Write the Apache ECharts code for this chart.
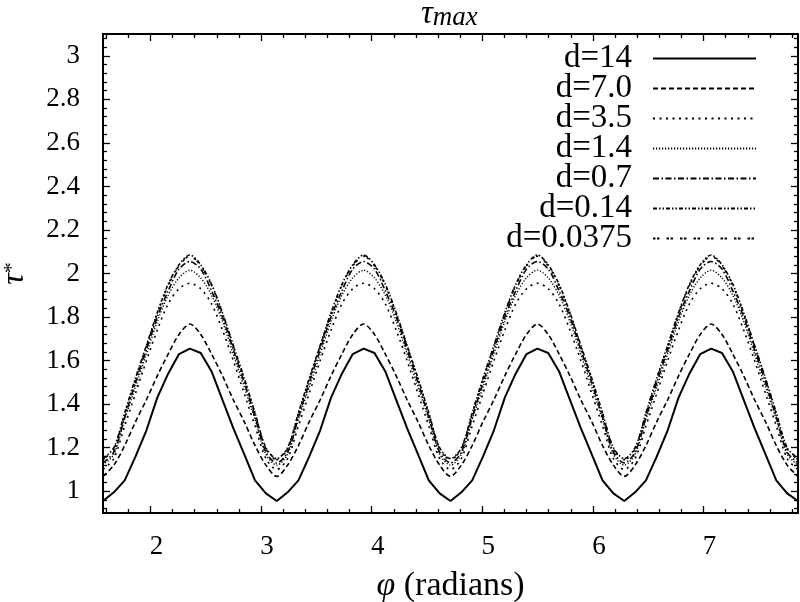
<!DOCTYPE html>
<html><head><meta charset="utf-8">
<script src="https://cdn.jsdelivr.net/npm/echarts@6/dist/echarts.min.js"></script>
<style>html,body{margin:0;padding:0;background:#fff}#c{width:800px;height:602px}</style>
</head><body><div id="c"></div>
<script>
// ---- data ----
const xValues = [1.5708,1.6690,1.7671,1.8653,1.9635,2.0617,2.1598,2.2580,2.3562,2.4544,2.5525,2.6507,2.7489,2.8471,2.9452,3.0434,3.1416,
 3.2398,3.3379,3.4361,3.5343,3.6325,3.7306,3.8288,3.9270,4.0252,4.1233,4.2215,4.3197,4.4179,4.5160,4.6142,4.7124,
 4.8106,4.9087,5.0069,5.1051,5.2033,5.3014,5.3996,5.4978,5.5960,5.6941,5.7923,5.8905,5.9887,6.0868,6.1850,6.2832,
 6.3814,6.4795,6.5777,6.6759,6.7741,6.8722,6.9704,7.0686,7.1668,7.2649,7.3631,7.4613,7.5595,7.6576,7.7558,7.8540];

const seriesNames = ['d=14','d=7.0','d=3.5','d=1.4','d=0.7','d=0.14','d=0.0375'];

const d14 = [0.955,0.995,1.05,1.16,1.28,1.43,1.54,1.63,1.655,1.635,1.55,1.42,1.29,1.17,1.05,0.99,0.955,
 0.995,1.05,1.16,1.28,1.43,1.54,1.63,1.655,1.635,1.55,1.42,1.29,1.17,1.05,0.99,0.955,
 0.995,1.05,1.16,1.28,1.43,1.54,1.63,1.655,1.635,1.55,1.42,1.29,1.17,1.05,0.99,0.955,
 0.995,1.05,1.16,1.28,1.43,1.54,1.63,1.655,1.635,1.55,1.42,1.29,1.17,1.05,0.99,0.955];
const d7 = [1.068,1.12,1.21,1.32,1.42,1.53,1.63,1.72,1.768,1.72,1.63,1.53,1.42,1.32,1.21,1.12,1.068,
 1.12,1.21,1.32,1.42,1.53,1.63,1.72,1.768,1.72,1.63,1.53,1.42,1.32,1.21,1.12,1.068,
 1.12,1.21,1.32,1.42,1.53,1.63,1.72,1.768,1.72,1.63,1.53,1.42,1.32,1.21,1.12,1.068,
 1.12,1.21,1.32,1.42,1.53,1.63,1.72,1.768,1.72,1.63,1.53,1.42,1.32,1.21,1.12,1.068];
const d35 = [1.10,1.15,1.30,1.45,1.60,1.74,1.86,1.93,1.955,1.93,1.86,1.74,1.60,1.45,1.30,1.15,1.10,
 1.15,1.30,1.45,1.60,1.74,1.86,1.93,1.955,1.93,1.86,1.74,1.60,1.45,1.30,1.15,1.10,
 1.15,1.30,1.45,1.60,1.74,1.86,1.93,1.955,1.93,1.86,1.74,1.60,1.45,1.30,1.15,1.10,
 1.15,1.30,1.45,1.60,1.74,1.86,1.93,1.955,1.93,1.86,1.74,1.60,1.45,1.30,1.15,1.10];
const d14b = [1.12,1.17,1.33,1.48,1.63,1.78,1.90,1.98,2.015,1.98,1.90,1.78,1.63,1.48,1.33,1.17,1.12,
 1.17,1.33,1.48,1.63,1.78,1.90,1.98,2.015,1.98,1.90,1.78,1.63,1.48,1.33,1.17,1.12,
 1.17,1.33,1.48,1.63,1.78,1.90,1.98,2.015,1.98,1.90,1.78,1.63,1.48,1.33,1.17,1.12,
 1.17,1.33,1.48,1.63,1.78,1.90,1.98,2.015,1.98,1.90,1.78,1.63,1.48,1.33,1.17,1.12];
const d07 = [1.13,1.18,1.34,1.50,1.65,1.80,1.92,2.02,2.055,2.02,1.92,1.80,1.65,1.50,1.34,1.18,1.13,
 1.18,1.34,1.50,1.65,1.80,1.92,2.02,2.055,2.02,1.92,1.80,1.65,1.50,1.34,1.18,1.13,
 1.18,1.34,1.50,1.65,1.80,1.92,2.02,2.055,2.02,1.92,1.80,1.65,1.50,1.34,1.18,1.13,
 1.18,1.34,1.50,1.65,1.80,1.92,2.02,2.055,2.02,1.92,1.80,1.65,1.50,1.34,1.18,1.13];
const d014 = [1.15,1.20,1.36,1.52,1.67,1.82,1.95,2.04,2.085,2.04,1.95,1.82,1.67,1.52,1.36,1.20,1.15,
 1.20,1.36,1.52,1.67,1.82,1.95,2.04,2.085,2.04,1.95,1.82,1.67,1.52,1.36,1.20,1.15,
 1.20,1.36,1.52,1.67,1.82,1.95,2.04,2.085,2.04,1.95,1.82,1.67,1.52,1.36,1.20,1.15,
 1.20,1.36,1.52,1.67,1.82,1.95,2.04,2.085,2.04,1.95,1.82,1.67,1.52,1.36,1.20,1.15];
const d00375 = [1.145,1.195,1.355,1.515,1.665,1.815,1.945,2.035,2.08,2.035,1.945,1.815,1.665,1.515,1.355,1.195,1.145,
 1.195,1.355,1.515,1.665,1.815,1.945,2.035,2.08,2.035,1.945,1.815,1.665,1.515,1.355,1.195,1.145,
 1.195,1.355,1.515,1.665,1.815,1.945,2.035,2.08,2.035,1.945,1.815,1.665,1.515,1.355,1.195,1.145,
 1.195,1.355,1.515,1.665,1.815,1.945,2.035,2.08,2.035,1.945,1.815,1.665,1.515,1.355,1.195,1.145];

const xTickValues = [2,3,4,5,6,7];
const yTickValues = [1,1.2,1.4,1.6,1.8,2,2.2,2.4,2.6,2.8,3];
const xRange = [1.5708, 7.8540];
const yRange = [0.9, 3.1];

// ---- styling ----
const FONT = 'Liberation Serif';
const allY = [d14, d7, d35, d14b, d07, d014, d00375];
const dashes = ['solid', [5,3], [2,4.5], [1.2,1.8], [6,2.5,1.5,2.5], [4,2,1.5,2,1.5,2], [2.5,1.5,2.5,7]];
const widths = [2, 1.6, 1.6, 1.4, 1.6, 1.6, 1.6];

// minor tick positions (decoration)
const xMinor = [], yMinor = [];
for (let v = 16; v <= 78; v += 2) if (v % 10 !== 0) xMinor.push(v / 10);
for (let v = 92; v <= 308; v += 4) if (v % 20 !== 0) yMinor.push(v / 100);

function xAx(pos, ticks, len, showLabel, showLine) {
  return {
    type: 'value', position: pos, min: xRange[0], max: xRange[1],
    axisLine: { show: showLine, onZero: false, lineStyle: { color: '#000', width: 2 } },
    axisTick: { show: true, inside: true, length: len, customValues: ticks, lineStyle: { color: '#000', width: 1.3 } },
    axisLabel: { show: showLabel, customValues: ticks, margin: 20, color: '#000', fontFamily: FONT, fontSize: 27, padding: [0, 0, 0, 12] },
    splitLine: { show: false }
  };
}
function yAx(pos, ticks, len, showLabel, showLine) {
  return {
    type: 'value', position: pos, min: yRange[0], max: yRange[1],
    axisLine: { show: showLine, onZero: false, lineStyle: { color: '#000', width: 2 } },
    axisTick: { show: true, inside: true, length: len, customValues: ticks, lineStyle: { color: '#000', width: 1.3 } },
    axisLabel: { show: showLabel, customValues: ticks, margin: 23, color: '#000', fontFamily: FONT, fontSize: 27 },
    splitLine: { show: false }
  };
}

const xAxes = [xAx('bottom', xTickValues, 7, true, true), xAx('bottom', xMinor, 4, false, false),
               xAx('top', xTickValues, 7, false, true), xAx('top', xMinor, 4, false, false)];
const yAxes = [yAx('left', yTickValues, 7, true, true), yAx('left', yMinor, 4, false, false),
               yAx('right', yTickValues, 7, false, true), yAx('right', yMinor, 4, false, false)];

xAxes[0].name = '{i|φ} (radians)';
xAxes[0].nameLocation = 'middle';
xAxes[0].nameGap = 56;
xAxes[0].nameMoveOverlap = false;
xAxes[0].nameTextStyle = { color: '#000', fontFamily: FONT, fontSize: 34, rich: { i: { fontFamily: FONT, fontStyle: 'italic', fontSize: 34, color: '#000' } } };

yAxes[0].name = '{t|τ}{s|*}';
yAxes[0].nameLocation = 'middle';
yAxes[0].nameGap = 72;
yAxes[0].nameMoveOverlap = false;
yAxes[0].nameTextStyle = { color: '#000', fontFamily: FONT, rich: {
  t: { fontFamily: FONT, fontStyle: 'italic', fontSize: 32, color: '#000', lineHeight: 30, verticalAlign: 'bottom' },
  s: { fontFamily: FONT, fontSize: 22, color: '#000', lineHeight: 30, verticalAlign: 'top', padding: [0, 0, 0, 0] } } };

const series = seriesNames.map((n, i) => ({
  name: n, type: 'line', xAxisIndex: 0, yAxisIndex: 0,
  data: xValues.map((x, j) => [x, allY[i][j]]),
  symbol: 'none', smooth: i === 0 ? false : 0.3,
  lineStyle: { color: '#000', width: widths[i], type: dashes[i] },
  itemStyle: { color: '#000' },
  silent: true, z: 10 - i
}));

const legends = seriesNames.map((n, i) => ({
  data: [n], right: 43, top: 57 + 30 * i - 15, orient: 'horizontal', align: 'right', padding: 0,
  itemWidth: 103, itemHeight: 14, selectedMode: false,
  itemStyle: { color: 'rgba(0,0,0,0)', borderColor: 'rgba(0,0,0,0)', borderWidth: 0 },
  textStyle: { fontFamily: FONT, fontSize: 33, color: '#000', padding: [0, 16, 0, 0], lineHeight: 30 }
}));

const chart = echarts.init(document.getElementById('c'), null, { renderer: 'canvas' });
chart.setOption({
  animation: false,
  backgroundColor: '#fff',
  title: {
    text: '{t|τ}{s|max}', left: 416, top: -16,
    textStyle: { fontWeight: 'normal', rich: {
      t: { fontFamily: FONT, fontStyle: 'italic', fontWeight: 'normal', fontSize: 33, color: '#000', lineHeight: 42, verticalAlign: 'bottom' },
      s: { fontFamily: FONT, fontStyle: 'italic', fontWeight: 'normal', fontSize: 27, color: '#000', lineHeight: 22, verticalAlign: 'bottom' } } }
  },
  grid: { left: 103, right: 2, top: 34, bottom: 89, containLabel: false, outerBoundsMode: 'none' },
  legend: legends,
  xAxis: xAxes,
  yAxis: yAxes,
  series: series
});
</script></body></html>
